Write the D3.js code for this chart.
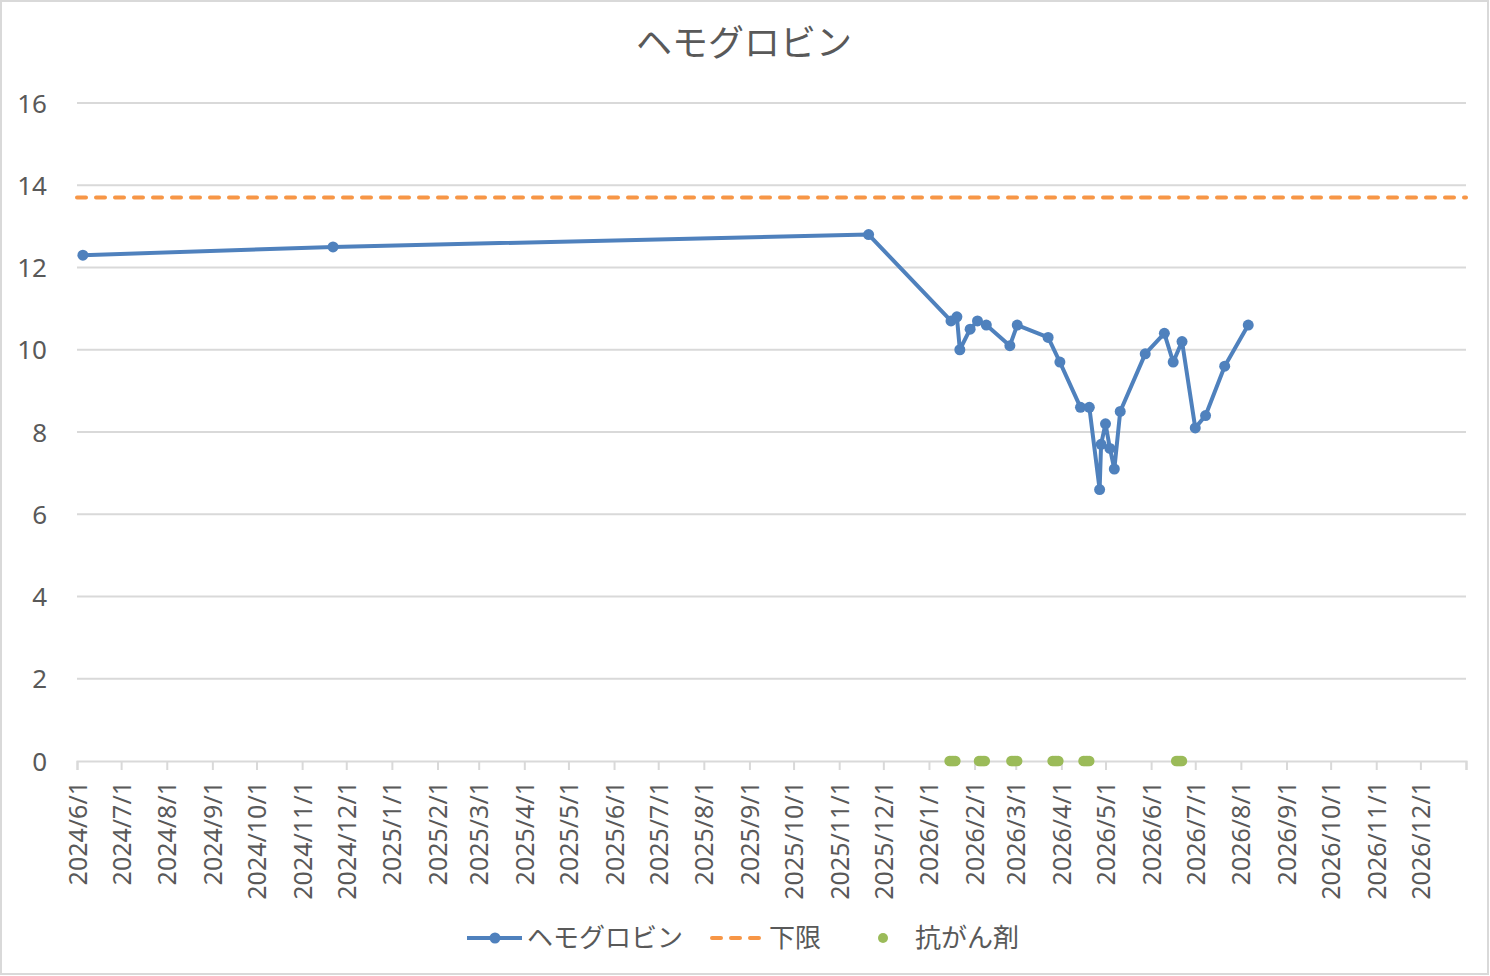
<!DOCTYPE html>
<html>
<head>
<meta charset="utf-8">
<script src="https://cdn.jsdelivr.net/npm/d3@7"></script>
<style>
  body { margin: 0; background: #fff; }
  text { font-family: "Noto Sans", "Noto Sans CJK JP", sans-serif; fill: #595959; }
</style>
</head>
<body>
<svg id="chart"></svg>
<script>
// hemoglobin measurements
const hgbDates = [
  "2024/6/5", "2024/11/22", "2025/11/21",
  "2026/1/16", "2026/1/20", "2026/1/22", "2026/1/29", "2026/2/3", "2026/2/9",
  "2026/2/25", "2026/3/2", "2026/3/23", "2026/3/31", "2026/4/14", "2026/4/20",
  "2026/4/27", "2026/4/28", "2026/5/1", "2026/5/4", "2026/5/7", "2026/5/11",
  "2026/5/28", "2026/6/10", "2026/6/16", "2026/6/22", "2026/7/1", "2026/7/8",
  "2026/7/21", "2026/8/6",
];
const hgbValues = [
  12.3, 12.5, 12.8,
  10.7, 10.8, 10.0, 10.5, 10.7, 10.6,
  10.1, 10.6, 10.3, 9.7, 8.6, 8.6,
  6.6, 7.7, 8.2, 7.6, 7.1, 8.5,
  9.9, 10.4, 9.7, 10.2, 8.1, 8.4,
  9.6, 10.6,
];

// lower limit line
const limitDates = ["2024/6/1", "2027/1/1"];
const limitValues = [13.7, 13.7];

// chemo days (plotted at 0)
const chemoDates = [
  "2026/1/15", "2026/1/16", "2026/1/17", "2026/1/18", "2026/1/19",
  "2026/2/4", "2026/2/5", "2026/2/6", "2026/2/7", "2026/2/8",
  "2026/2/26", "2026/2/27", "2026/2/28", "2026/3/1", "2026/3/2",
  "2026/3/26", "2026/3/27", "2026/3/28", "2026/3/29", "2026/3/30",
  "2026/4/16", "2026/4/17", "2026/4/18", "2026/4/19", "2026/4/20",
  "2026/6/18", "2026/6/19", "2026/6/20", "2026/6/21", "2026/6/22",
];

const yTicks = [0, 2, 4, 6, 8, 10, 12, 14, 16];
const xDomain = ["2024/6/1", "2027/1/1"];

const seriesNames = ["ヘモグロビン", "下限", "抗がん剤"];
const colors = ["#4f81bd", "#f79646", "#9bbb59"];

const W = 1490, H = 976;
const margin = { top: 103, right: 24, bottom: 215, left: 77 };
const parse = d3.timeParse("%Y/%-m/%-d");
const fmt = d3.timeFormat("%Y/%-m/%-d");

const svg = d3.select("#chart").attr("width", W).attr("height", H);

// outer frame
svg.append("rect")
  .attr("x", 1).attr("y", 1)
  .attr("width", W - 3).attr("height", H - 3)
  .attr("fill", "#fff")
  .attr("stroke", "#d9d9d9")
  .attr("stroke-width", 2);

const x = d3.scaleTime()
  .domain(xDomain.map(parse))
  .range([margin.left, W - margin.right]);

const y = d3.scaleLinear()
  .domain([0, 16])
  .range([H - margin.bottom, margin.top]);

// title
svg.append("text")
  .attr("x", 744).attr("y", 56)
  .attr("text-anchor", "middle")
  .style("font-size", "36px")
  .text("ヘモグロビン");

// gridlines
svg.append("g")
  .selectAll("line")
  .data(yTicks.filter((d) => d > 0))
  .join("line")
  .attr("x1", x.range()[0]).attr("x2", x.range()[1])
  .attr("y1", (d) => y(d)).attr("y2", (d) => y(d))
  .attr("stroke", "#d9d9d9")
  .attr("stroke-width", 2);

// y axis labels
const yAxis = d3.axisLeft(y).tickValues(yTicks).tickSize(0).tickPadding(0);
const yAxisG = svg.append("g")
  .attr("transform", `translate(47,0)`)
  .call(yAxis);
yAxisG.select(".domain").remove();
yAxisG.selectAll("text")
  .style("font-size", "26px")
  .attr("fill", "#595959")
  .attr("dy", "0.35em");

// x axis
const months = d3.timeMonth.range(x.domain()[0], d3.timeDay.offset(x.domain()[1], 1));
const lastMonth = months[months.length - 1];
const xAxis = d3.axisBottom(x)
  .tickValues(months)
  .tickSize(9)
  .tickPadding(0)
  .tickFormat((d) => (+d === +lastMonth ? "" : fmt(d)));

const xAxisG = svg.append("g")
  .attr("transform", `translate(0,${y(0)})`)
  .call(xAxis);
xAxisG.select(".domain").attr("stroke", "#d9d9d9").attr("stroke-width", 2);
xAxisG.selectAll(".tick line").attr("stroke", "#d9d9d9").attr("stroke-width", 2);
xAxisG.selectAll(".tick text")
  .attr("transform", "rotate(-90)")
  .attr("x", -20)
  .attr("y", 0)
  .attr("dy", "0.36em")
  .attr("text-anchor", "end")
  .attr("fill", "#595959")
  .style("font-size", "25px");

// lower limit
const limitData = limitDates.map((d, i) => ({ date: parse(d), value: limitValues[i] }));
const line = d3.line().x((d) => x(d.date)).y((d) => y(d.value));

svg.append("path")
  .datum(limitData)
  .attr("fill", "none")
  .attr("stroke", colors[1])
  .attr("stroke-width", 4)
  .attr("stroke-linecap", "round")
  .attr("stroke-dasharray", "9,10")
  .attr("d", line);

// hemoglobin
const hgbData = hgbDates.map((d, i) => ({ date: parse(d), value: hgbValues[i] }));

svg.append("path")
  .datum(hgbData)
  .attr("fill", "none")
  .attr("stroke", colors[0])
  .attr("stroke-width", 4)
  .attr("stroke-linejoin", "round")
  .attr("d", line);

svg.append("g")
  .selectAll("circle")
  .data(hgbData)
  .join("circle")
  .attr("cx", (d) => x(d.date))
  .attr("cy", (d) => y(d.value))
  .attr("r", 5.5)
  .attr("fill", colors[0]);

// chemo markers
svg.append("g")
  .selectAll("circle")
  .data(chemoDates.map(parse))
  .join("circle")
  .attr("cx", (d) => x(d))
  .attr("cy", y(0))
  .attr("r", 5.2)
  .attr("fill", colors[2]);

// legend
const legendY = 938;
const legend = svg.append("g").attr("class", "legend");

legend.append("line")
  .attr("x1", 467).attr("x2", 522)
  .attr("y1", legendY).attr("y2", legendY)
  .attr("stroke", colors[0]).attr("stroke-width", 4);
legend.append("circle")
  .attr("cx", 495).attr("cy", legendY).attr("r", 5.5)
  .attr("fill", colors[0]);

legend.append("line")
  .attr("x1", 712).attr("x2", 762)
  .attr("y1", legendY).attr("y2", legendY)
  .attr("stroke", colors[1]).attr("stroke-width", 4)
  .attr("stroke-linecap", "round")
  .attr("stroke-dasharray", "9,10");

legend.append("circle")
  .attr("cx", 883).attr("cy", legendY).attr("r", 5)
  .attr("fill", colors[2]);

const legendTextX = [527, 769, 915];
legend.selectAll("text")
  .data(seriesNames)
  .join("text")
  .attr("x", (d, i) => legendTextX[i])
  .attr("y", legendY)
  .attr("dy", "0.36em")
  .style("font-size", "26px")
  .text((d) => d);
</script>
</body>
</html>
